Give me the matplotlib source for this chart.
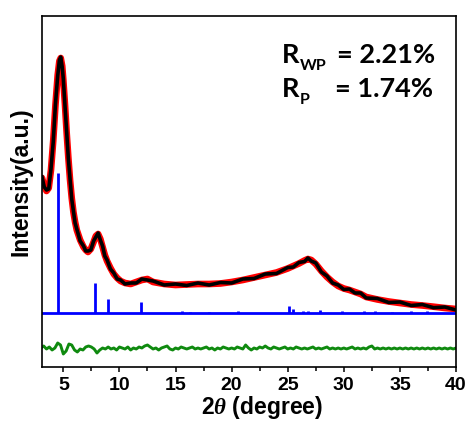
import numpy as np
import matplotlib
matplotlib.use("Agg")
import matplotlib.pyplot as plt
from matplotlib.ticker import MultipleLocator

# observed / calculated profile (2theta, intensity a.u.)
two_theta = [3.1, 3.3, 3.5, 3.7, 3.9, 4.1, 4.3, 4.5, 4.65, 4.77, 4.9, 5.0, 5.15, 5.3,
             5.45, 5.6, 5.75, 5.9, 6.05, 6.2, 6.5, 6.8, 7.0, 7.2, 7.45, 7.7, 7.9, 8.1,
             8.3, 8.5, 8.7, 8.9, 9.2, 9.5, 9.8, 10.1, 10.5, 11.0, 11.5, 12.0, 12.5,
             13.0, 14.0, 15.0, 16.0, 17.0, 18.0, 19.0, 20.0, 21.0, 22.0, 23.0, 24.0,
             25.0, 25.5, 26.0, 26.5, 26.8, 27.1, 27.5, 28.0, 28.5, 29.0, 29.5, 30.0,
             30.5, 31.0, 31.5, 32.0, 33.0, 34.0, 35.0, 36.0, 37.0, 38.0, 39.0, 40.0]
calc = [189, 181, 176, 179, 197, 226, 262, 292, 306, 309, 301, 287, 262, 234,
        209, 187, 169, 155, 145, 137, 127, 120, 117, 115, 118, 125, 131, 133,
        128, 120, 112, 106, 99, 93, 89, 86, 84, 83, 85, 87, 88,
        85, 83, 82, 82.5, 83, 83, 83.5, 85, 87, 89.5, 92, 94.5,
        98.5, 101, 103.5, 106.5, 108, 107, 103, 96, 90, 85, 81, 78.5,
        77, 75, 73, 70, 67.5, 65.5, 64, 62.5, 61.5, 60.3, 59, 58]
obs = [190, 180, 177, 178, 198, 225, 263, 291, 307, 310, 300, 288, 261, 235,
       208, 188, 168, 156, 144, 138, 126, 121, 116, 116, 117, 126, 130, 134,
       127, 121, 111, 107, 98, 94, 88, 87, 83, 84, 84, 88, 87,
       86, 82, 83, 81.5, 84, 82, 84.5, 84, 88, 88.5, 93, 93.5,
       99.5, 100, 104.5, 105.5, 109, 106, 104, 95, 91, 84, 82, 77.5,
       78, 74, 74, 69, 68.5, 64.5, 65, 61.5, 62.5, 59.3, 60, 57]

# Bragg reflections (position, intensity) on the simulated pattern
sim_base = 54.5
peak_pos = [4.55, 7.83, 9.02, 11.9, 15.6, 16.3, 18.0, 20.6, 25.1, 25.45, 26.4,
            26.8, 27.9, 29.8, 31.8, 32.8, 34.3, 36.0, 37.4]
peak_int = [140, 30, 14, 11, 2, 1, 1, 1.5, 7, 4, 2, 2, 2.5, 1.5, 1.5, 1.5, 1, 1.5, 1.5]

# difference curve, 0.25 deg steps from 3 to 40
diff = [19, 21, 18, 20, 17, 19, 24, 22, 13, 16, 23, 22, 17, 15, 18, 17,
        20, 21, 20, 18, 14, 17, 19, 18, 20, 18, 19, 17, 20, 19, 18, 20,
        17, 19, 18, 20, 19, 21, 22, 20, 18, 19, 17, 19, 20, 21, 18, 17,
        19, 18, 20, 19, 18, 19, 20, 18, 19, 18, 19, 20, 18, 19, 17, 19,
        18, 20, 19, 18, 19, 18, 20, 19, 18, 22, 19, 17, 19, 18, 20, 19,
        21, 19, 18, 20, 19, 18, 19, 20, 18, 19, 18, 20, 19, 18, 19, 18,
        19, 20, 18, 19, 18, 19, 20, 18, 19, 18, 19, 18, 19, 18, 19, 20,
        18, 19, 18, 19, 18, 20, 21, 18, 19, 18, 19, 18, 19, 18, 19, 18,
        19, 18, 19, 18, 19, 18, 19, 18, 19, 18, 19, 18, 19, 18, 19, 18,
        19, 18, 19, 18, 19]
diff_x = np.arange(len(diff)) * 0.25 + 3.0

plt.rcParams['font.family'] = ['Liberation Sans', 'DejaVu Sans']
plt.rcParams['font.weight'] = 'bold'
plt.rcParams['mathtext.fontset'] = 'custom'
plt.rcParams['mathtext.it'] = 'Liberation Serif:italic'

fig = plt.figure(figsize=(4.69, 4.22), dpi=100)
ax = fig.add_axes([42 / 469, 1 - 367 / 422, 414 / 469, 351 / 422])

ax.plot(two_theta, calc, color='red', linewidth=4.8, solid_capstyle='round')
ax.plot(two_theta, obs, color='black', linewidth=2.6)
ax.axhline(sim_base, color='#0000ff', linewidth=2)
ax.vlines(peak_pos, sim_base, [sim_base + p for p in peak_int], color='#0000ff', linewidth=2)
ax.plot(diff_x, diff, color='#0f8a0f', linewidth=2.1)

ax.set_xlim(3.1, 40)
ax.set_ylim(0, 351)
ax.set_yticks([])
ax.xaxis.set_major_locator(MultipleLocator(5))
ax.xaxis.set_minor_locator(MultipleLocator(2.5))
ax.tick_params(axis='x', which='major', direction='out', length=3.5, width=1.1, labelsize=14, pad=4)
ax.tick_params(axis='x', which='minor', direction='out', length=3, width=1.1)
for s in ax.spines.values():
    s.set_linewidth(1.2)

ax.set_xlabel(r'2$\mathit{\theta}$ (degree)', fontsize=16.5, fontweight='bold')
ax.xaxis.set_label_coords(0.531, -0.078)
ax.set_ylabel('Intensity(a.u.)', fontsize=16.5, fontweight='bold')
ax.yaxis.set_label_coords(-0.022, 0.527)

# refinement factors
rfont = dict(family='Lato', weight='bold', color='black')
fig.text(282 / 469, 1 - 63 / 422, 'R', fontsize=19.5, va='baseline', **rfont)
fig.text(300 / 469, 1 - 70 / 422, 'WP', fontsize=11.5, va='baseline', **rfont)
fig.text(337 / 469, 1 - 63 / 422, '= 2.21%', fontsize=19.5, va='baseline', **rfont)
fig.text(282 / 469, 1 - 97 / 422, 'R', fontsize=19.5, va='baseline', **rfont)
fig.text(300 / 469, 1 - 104 / 422, 'P', fontsize=11.5, va='baseline', **rfont)
fig.text(335 / 469, 1 - 97 / 422, '= 1.74%', fontsize=19.5, va='baseline', **rfont)

fig.savefig('out.png', dpi=100)
